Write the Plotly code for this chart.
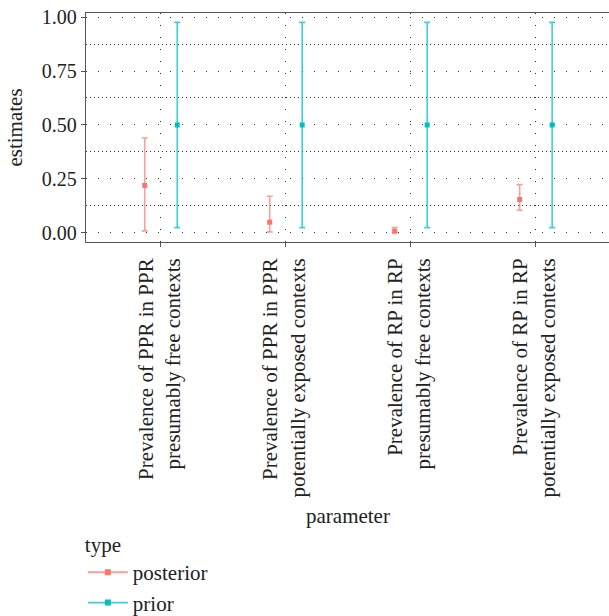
import plotly.graph_objects as go

categories = [
    "Prevalence of PPR in PPR<br>presumably free contexts",
    "Prevalence of PPR in PPR<br>potentially exposed contexts",
    "Prevalence of RP in RP<br>presumably free contexts",
    "Prevalence of RP in RP<br>potentially exposed contexts",
]
cat_pos = [1, 2, 3, 4]
y_ticks = [0, 0.25, 0.5, 0.75, 1.0]
y_ticklabels = ["0.00", "0.25", "0.50", "0.75", "1.00"]

posterior_mean = [0.22, 0.05, 0.008, 0.155]
posterior_low = [0.01, 0.005, 0.002, 0.105]
posterior_high = [0.44, 0.17, 0.025, 0.224]

prior_mean = [0.5, 0.5, 0.5, 0.5]
prior_low = [0.025, 0.025, 0.025, 0.025]
prior_high = [0.975, 0.975, 0.975, 0.975]

dodge = 0.13
FONT = "Liberation Serif"
TXT = "#222222"
col_post = "#F8766D"
col_prior = "#00BFC4"

fig = go.Figure()


def add_series(name, mean, low, high, col, err_col, offset):
    xs = [p + offset for p in cat_pos]
    fig.add_trace(go.Scatter(
        x=xs, y=mean, mode="markers", showlegend=False,
        marker=dict(symbol="square", size=5, color=col),
        error_y=dict(type="data", symmetric=False,
                     array=[h - m for h, m in zip(high, mean)],
                     arrayminus=[m - l for m, l in zip(mean, low)],
                     color=err_col, thickness=1.6, width=3),
    ))
    fig.add_trace(go.Scatter(
        x=[None], y=[None], mode="lines+markers", name=name,
        marker=dict(symbol="square", size=6, color=col),
        line=dict(color=err_col, width=1.8),
    ))


add_series("posterior", posterior_mean, posterior_low, posterior_high,
           col_post, "rgba(248,118,109,0.7)", -dodge)
add_series("prior", prior_mean, prior_low, prior_high,
           col_prior, "rgba(0,191,196,0.75)", dodge)

# category tick labels (rotated, lines right-aligned = ends at top)
for pos, lab in zip(cat_pos, categories):
    fig.add_annotation(
        x=pos, xref="x", y=0, yref="paper", yshift=-14, xshift=-2,
        xanchor="center", yanchor="top", text=lab, textangle=-90,
        align="right", showarrow=False,
        font=dict(family=FONT, size=21, color=TXT),
    )

# x axis title
fig.add_annotation(
    x=0.5, xref="paper", y=0, yref="paper", yshift=-274,
    xanchor="center", yanchor="middle", text="parameter", showarrow=False,
    font=dict(family=FONT, size=21, color=TXT),
)

grid_col = "#333333"
fig.update_layout(
    width=609, height=616,
    margin=dict(l=86, r=0, t=13, b=374, autoexpand=False),
    plot_bgcolor="white", paper_bgcolor="white",
    font=dict(family=FONT, size=21, color=TXT),
    xaxis=dict(
        range=[0.4, 4.585], tickmode="array", tickvals=cat_pos,
        showticklabels=False,
        showline=True, mirror=True, linecolor="#555555", linewidth=1.3,
        ticks="outside", ticklen=4, tickcolor="#555555",
        showgrid=True, gridcolor=grid_col, gridwidth=1, griddash="1px,11px",
        zeroline=False,
    ),
    yaxis=dict(
        range=[-0.0417, 1.0185], tickvals=y_ticks, ticktext=y_ticklabels,
        showline=True, mirror=False, linecolor="#555555", linewidth=1.3,
        ticks="outside", ticklen=4, tickcolor="#555555",
        showgrid=True, gridcolor=grid_col, gridwidth=1, griddash="1px,11px",
        minor=dict(tickvals=[0.125, 0.375, 0.625, 0.875], showgrid=True,
                   gridcolor=grid_col, gridwidth=1, griddash="1px,3px"),
        zeroline=False,
        title=dict(text="estimates", standoff=13, font=dict(size=21)),
        tickfont=dict(size=20, color=TXT),
    ),
    legend=dict(
        title=dict(text="type", font=dict(size=21)),
        x=-0.006, xanchor="left", y=-1.235, yanchor="top",
        font=dict(size=21), itemwidth=40, bgcolor="rgba(0,0,0,0)",
    ),
)

fig.write_html("out.html")
